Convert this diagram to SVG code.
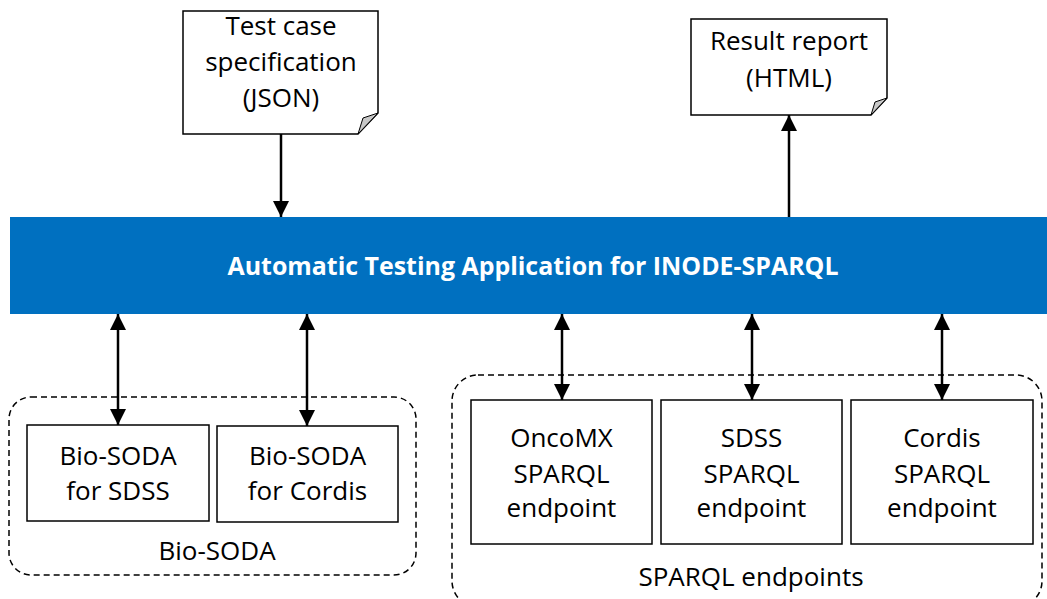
<svg xmlns="http://www.w3.org/2000/svg" width="1047" height="599" viewBox="0 0 1047 599">
<style>
  .t{font-family:"Open Sans","Liberation Sans",sans-serif;font-size:26px;fill:#000;text-anchor:middle}
  .bar{font-family:"Open Sans","Liberation Sans",sans-serif;font-size:25px;font-weight:bold;fill:#fff;text-anchor:middle}
  .box{fill:#fff;stroke:#000;stroke-width:1.5}
  .grp{fill:none;stroke:#000;stroke-width:1.5;stroke-dasharray:6 4}
  .fold{fill:#c8c8c8;stroke:#000;stroke-width:1}
  .con{stroke:#000;stroke-width:2.5;fill:none}
</style>
<defs>
  <marker id="ah" markerUnits="userSpaceOnUse" markerWidth="16" markerHeight="18" viewBox="0 0 16 18" refX="16" refY="9" orient="auto-start-reverse">
    <path d="M0,1 L16,9 L0,17 Z" fill="#000"/>
  </marker>
</defs>
<rect width="1047" height="599" fill="#fff"/>

<g id="group-biosoda">
  <rect class="grp" x="9" y="397" width="407" height="178" rx="22"/>
  <text class="t" x="217" y="560">Bio-SODA</text>
</g>
<g id="group-sparql">
  <rect class="grp" x="452" y="375" width="590" height="232" rx="26"/>
  <text class="t" x="751" y="586">SPARQL endpoints</text>
</g>

<g id="app">
  <rect x="10" y="217" width="1037" height="97" fill="#0070C0"/>
  <text class="bar" x="533" y="275" textLength="611" lengthAdjust="spacingAndGlyphs">Automatic Testing Application for INODE-SPARQL</text>
</g>

<g id="testcase">
  <path class="box" d="M183,11 H378 V113 L358,134 H183 Z"/>
  <path class="fold" d="M358,134 L363,118 L378,113 Z"/>
  <text class="t" x="281" y="35">Test case</text>
  <text class="t" x="281" y="71">specification</text>
  <text class="t" x="281" y="107">(JSON)</text>
</g>

<g id="report">
  <path class="box" d="M691,19 H887 V98 L871,115 H691 Z"/>
  <path class="fold" d="M871,115 L875,102 L887,98 Z"/>
  <text class="t" x="789" y="50">Result report</text>
  <text class="t" x="789" y="87">(HTML)</text>
</g>

<g id="biosoda-sdss">
  <rect class="box" x="27" y="425" width="182" height="96"/>
  <text class="t" x="118" y="465">Bio-SODA</text>
  <text class="t" x="118" y="500">for SDSS</text>
</g>
<g id="biosoda-cordis">
  <rect class="box" x="217" y="426" width="181" height="96"/>
  <text class="t" x="307.5" y="465">Bio-SODA</text>
  <text class="t" x="307.5" y="500">for Cordis</text>
</g>

<g id="oncomx">
  <rect class="box" x="471" y="400" width="181" height="144"/>
  <text class="t" x="561.5" y="447">OncoMX</text>
  <text class="t" x="561.5" y="483">SPARQL</text>
  <text class="t" x="561.5" y="517">endpoint</text>
</g>
<g id="sdss">
  <rect class="box" x="661" y="400" width="181" height="144"/>
  <text class="t" x="751.5" y="447">SDSS</text>
  <text class="t" x="751.5" y="483">SPARQL</text>
  <text class="t" x="751.5" y="517">endpoint</text>
</g>
<g id="cordis">
  <rect class="box" x="851" y="400" width="182" height="144"/>
  <text class="t" x="942" y="447">Cordis</text>
  <text class="t" x="942" y="483">SPARQL</text>
  <text class="t" x="942" y="517">endpoint</text>
</g>

<g id="connectors">
  <line class="con" x1="281" y1="134" x2="281" y2="217" marker-end="url(#ah)"/>
  <line class="con" x1="789" y1="217" x2="789" y2="115" marker-end="url(#ah)"/>
  <line class="con" x1="118" y1="314" x2="118" y2="425" marker-start="url(#ah)" marker-end="url(#ah)"/>
  <line class="con" x1="307" y1="314" x2="307" y2="426" marker-start="url(#ah)" marker-end="url(#ah)"/>
  <line class="con" x1="562" y1="314" x2="562" y2="400" marker-start="url(#ah)" marker-end="url(#ah)"/>
  <line class="con" x1="752" y1="314" x2="752" y2="400" marker-start="url(#ah)" marker-end="url(#ah)"/>
  <line class="con" x1="942" y1="314" x2="942" y2="400" marker-start="url(#ah)" marker-end="url(#ah)"/>
</g>
</svg>
